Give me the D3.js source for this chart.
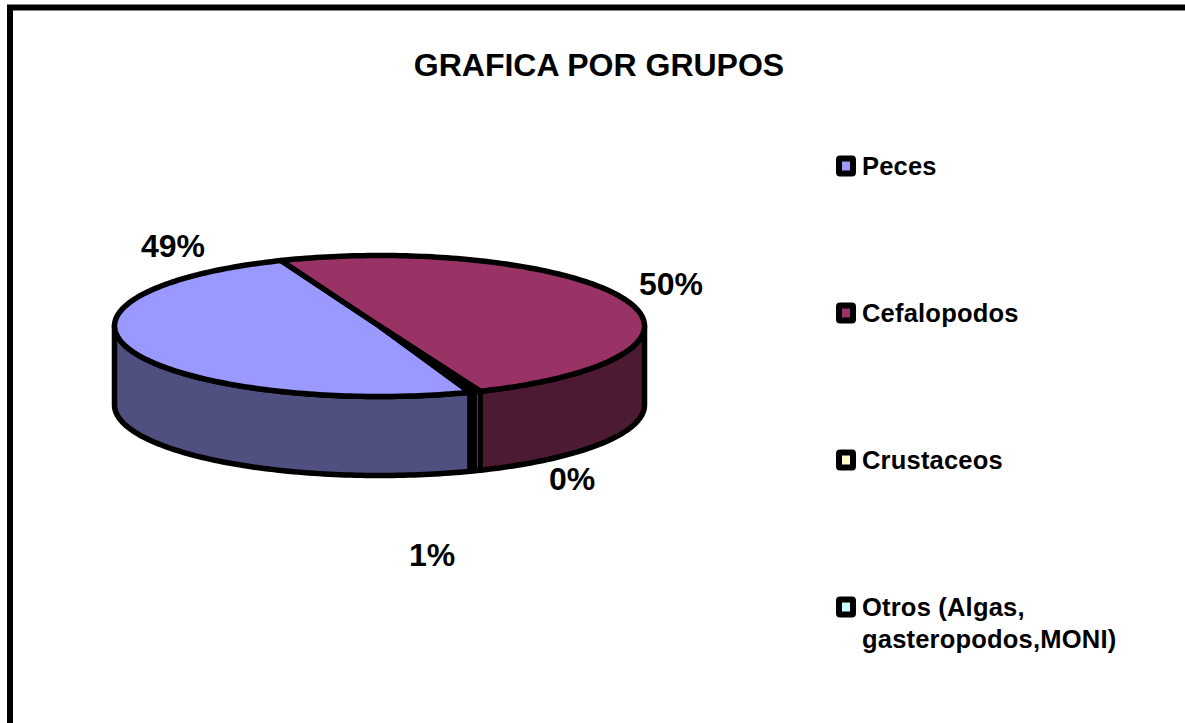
<!DOCTYPE html>
<html><head><meta charset="utf-8">
<script src="https://cdnjs.cloudflare.com/ajax/libs/d3/7.8.5/d3.min.js"></script>
<style>html,body{margin:0;background:#fff}svg{display:block}text{font-family:"Liberation Sans",Arial,sans-serif;font-weight:bold;fill:#000}</style>
</head><body><svg id="c" width="1185" height="723"></svg>
<script>
const categories=["Peces","Cefalopodos","Crustaceos","Otros (Algas,|gasteropodos,MONI)"];
const values=[49.49,49.86,0.4,0.25];
const labels=["49%","50%","0%","1%"];
const topColors=["#9999FF","#993366","#FFFFCC","#CCFFFF"];
const sideColors=["#4F4F80","#4D1A33","#85856A","#6A8585"];
const labelPos=[[173,246],[671,284],[572,479],[432,555]];
const legendY=[166,313,460,607];

const W=1185,H=723,cx=379.5,cy=326,rx=265,ry=70.5,depth=79;
const svg=d3.select("#c");
svg.append("rect").attr("width",W).attr("height",H).attr("fill","#fff");
svg.append("path").attr("d",`M10,${H}V7.5H${W}`).attr("fill","none").attr("stroke","#000").attr("stroke-width",6);

const start=160*Math.PI/180;
const arcs=d3.pie().sort(null).startAngle(start).endAngle(start+2*Math.PI)(values);
const px=d3.scaleLinear().domain([-1,1]).range([cx-rx,cx+rx]);
const py=d3.scaleLinear().domain([-1,1]).range([cy-ry,cy+ry]);
const pt=(a,dz=0)=>[px(Math.sin(a)),py(-Math.cos(a))+dz];
const line=d3.line();
const samples=(a0,a1)=>{const n=Math.max(2,Math.ceil((a1-a0)/0.02));return d3.range(n+1).map(i=>a0+(a1-a0)*i/n);};

const sides=svg.append("g"),tops=svg.append("g");
arcs.forEach((d,i)=>{
  [[Math.PI/2,3*Math.PI/2],[Math.PI/2+2*Math.PI,3*Math.PI/2+2*Math.PI]].forEach(([lo,hi])=>{
    const a0=Math.max(d.startAngle,lo),a1=Math.min(d.endAngle,hi);
    if(a1<=a0)return;
    const as=samples(a0,a1);
    const p=as.map(a=>pt(a)).concat(as.slice().reverse().map(a=>pt(a,depth)));
    sides.append("path").attr("d",line(p)+"Z").attr("fill",sideColors[i]).attr("stroke","#000").attr("stroke-width",5.5).attr("stroke-linejoin","round");
  });
});
arcs.forEach((d,i)=>{
  const p=[[cx,cy]].concat(samples(d.startAngle,d.endAngle).map(a=>pt(a)));
  tops.append("path").attr("d",line(p)+"Z").attr("fill",topColors[i]).attr("stroke","#000").attr("stroke-width",5.5).attr("stroke-linejoin","round");
});

svg.append("text").attr("x",599).attr("y",76).attr("text-anchor","middle").attr("font-size",32).text("GRAFICA POR GRUPOS");
labels.forEach((t,i)=>svg.append("text").attr("x",labelPos[i][0]).attr("y",labelPos[i][1]+11).attr("text-anchor","middle").attr("font-size",32).text(t));

categories.forEach((c,i)=>{
  const y=legendY[i];
  svg.append("rect").attr("x",839).attr("y",y-7.5).attr("width",14).attr("height",15).attr("rx",1)
    .attr("fill",topColors[i]).attr("stroke","#000").attr("stroke-width",6).attr("stroke-linejoin","round");
  c.split("|").forEach((s,j)=>svg.append("text").attr("x",862).attr("y",y+9+j*32).attr("font-size",25.5).attr("letter-spacing",0.2).text(s));
});
</script></body></html>
